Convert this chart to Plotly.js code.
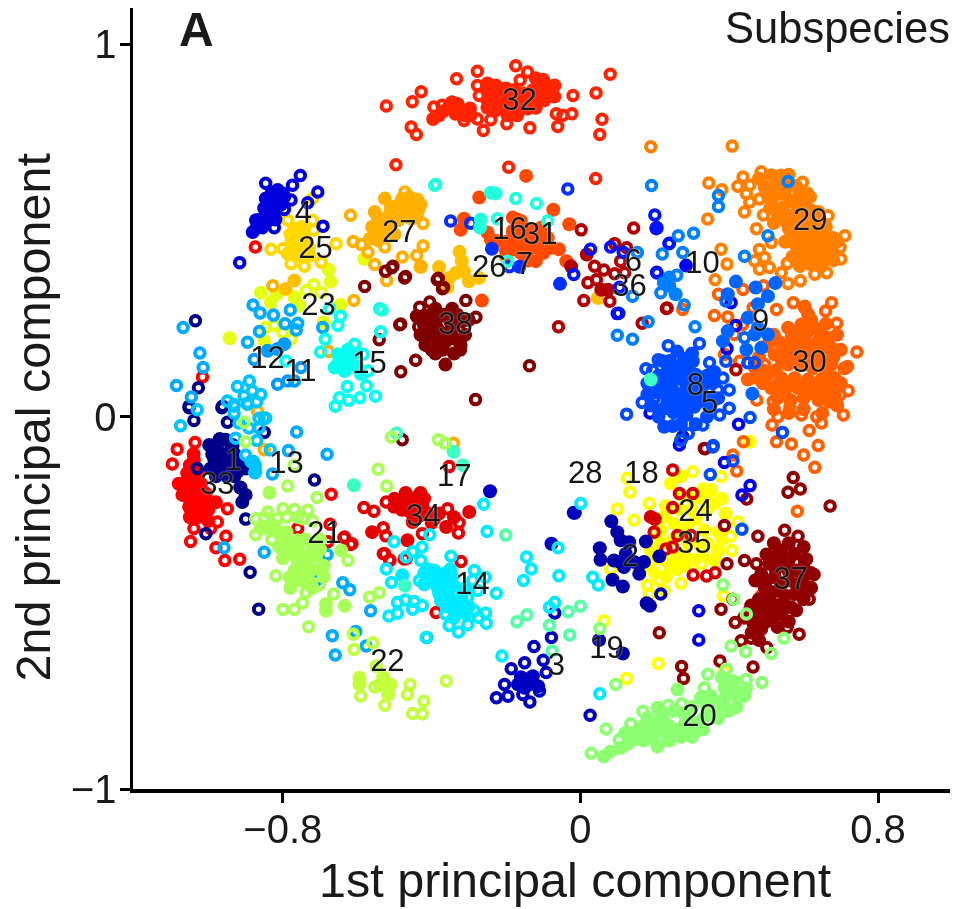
<!DOCTYPE html>
<html><head><meta charset="utf-8">
<script src="https://cdn.plot.ly/plotly-3.0.1.min.js"></script>
<style>html,body{margin:0;padding:0;background:#fff}#plot{width:958px;height:909px;filter:blur(0.45px)}</style>
</head><body><div id="plot"></div><script>
const xTickValues=[-0.8,0,0.8];
const xTickLabels=['−0.8','0','0.8'];
const yTickValues=[-1,0,1];
const yTickLabels=['−1','0','1'];

const labelNames=['1','2','3','4','5','6','7','8','9','10','11','12','13','14','15','16','17','18','19','20','21','22','23','24','25','26','27','28','29','30','31','32','33','34','35','36','37','38'];
const labelX=[-.933,.134,-.065,-.745,.347,.142,-.151,.309,.484,.328,-.753,-.841,-.79,-.29,-.567,-.191,-.339,.164,.07,.32,-.688,-.519,-.704,.309,-.712,-.245,-.487,.013,.618,.616,-.108,-.164,-.976,-.422,.306,.132,.565,-.336];
const labelY=[-.123,-.379,-.674,.54,.032,.411,.405,.078,.252,.408,.118,.153,-.129,-.456,.137,.499,-.164,-.156,-.628,-.811,-.319,-.663,.295,-.258,.446,.395,.491,-.156,.523,.14,.486,.846,-.188,-.274,-.344,.346,-.443,.242];

const colors={1:'#00008b',2:'#0000a8',3:'#0000c3',4:'#0000dd',5:'#0000f0',6:'#0014ff',7:'#002fff',8:'#004aff',9:'#0065ff',10:'#0080ff',11:'#009aff',12:'#00aaff',13:'#00c4ff',14:'#00ebff',15:'#07fff0',16:'#22ffdd',17:'#3cffc3',18:'#57ffa8',19:'#72ff8d',20:'#8dff72',21:'#a8ff57',22:'#c3ff3c',23:'#e4ff14',24:'#ffff00',25:'#ffd800',26:'#ffc000',27:'#ffb000',28:'#ff9a00',29:'#ff8000',30:'#ff6000',31:'#ff4a00',32:'#ff2400',33:'#ff0000',34:'#e40000',35:'#d40000',36:'#b00000',37:'#900000',38:'#800000'};

const ring1=[[-1.052,.028],[-1.039,-.01],[-.962,.028],[-.949,-.015],[-.85,-.042],[-1.03,-.139],[-.913,-.19],[-.9,-.275],[-1.007,-.314],[-.888,-.418],[-.865,-.517],[-.715,-.17],[-1.035,.258],[-1.027,.078],[-1.052,.024],[-.964,.024]];
const solid1=[[-.998,-.076],[-.954,-.062],[-.985,-.112],[-.958,-.103],[-.935,-.076],[-.994,-.139],[-.9,-.139],[-.922,-.148],[-.909,-.229],[-.96,-.135],[-.975,-.09],[-.94,-.09],[-.975,-.13],[-.935,-.12],[-.98,-.16],[-.95,-.16],[-.92,-.12],[-.91,-.135],[-.9,-.21],[-.915,-.19],[-.93,-.16],[-.99,-.1],[-.97,-.06],[-.93,-.1]];
const ring2=[[.216,-.476]];
const solid2=[[.083,-.281],[.099,-.31],[.108,-.332],[.131,-.337],[.052,-.353],[.054,-.384],[.09,-.386],[.122,-.368],[.144,-.39],[.171,-.39],[.158,-.422],[.117,-.404],[.086,-.438],[.114,-.456],[.176,-.335],[.212,-.375],[.178,-.501],[.187,-.508],[-.018,-.258],[.05,-.6],[.114,-.636],[.105,-.39]];
const ring3=[[-.125,-.617],[-.1,-.654],[-.186,-.677],[-.15,-.661],[-.092,-.687],[-.204,-.719],[-.226,-.755],[-.195,-.751],[-.136,-.766],[-.11,-.737],[-.155,-.746],[-.078,-.593],[-.069,-.527],[.026,-.802]];
const solid3=[[-.145,-.706],[-.128,-.697],[-.15,-.728],[-.114,-.724],[-.168,-.719],[-.078,-.341],[-.243,-.2],[-.015,-.258],[-.14,-.72],[-.13,-.71],[-.16,-.7]];
const ring4=[[-.753,.648],[-.774,.622],[-.706,.604],[-.733,.575],[-.692,.512],[-.916,.414],[-.846,.627],[-.778,.582],[-.823,.508],[-.855,.508],[-.796,.557]];
const solid4=[[-.814,.609],[-.846,.586],[-.818,.582],[-.796,.591],[-.85,.56],[-.823,.555],[-.872,.528],[-.881,.496],[-.841,.532],[-.863,.514],[-.83,.6],[-.805,.57],[-.84,.56],[-.82,.53],[-.86,.53],[-.8,.6],[-.83,.575],[-.87,.51]];
const ring5=[[.239,.466],[.205,.388],[.099,.277],[.187,.01],[.425,-.02],[.394,.183],[.418,.245],[.405,.306],[.266,-.076],[.275,-.053],[.387,-.123],[.318,-.521],[.318,-.6],[.456,-.185],[.434,-.21]];
const solid5=[[.204,.506],[.284,.406]];
const ring6=[[.027,.45],[.081,.456],[.115,.442],[-.018,.382],[.105,.348],[.103,.278],[.206,.386],[.238,.465],[.2,.542]];
const solid6=[[.205,.508]];
const ring7=[[-.349,.526],[-.295,.52],[-.191,.403],[-.034,.612]];
const solid7=[[-.164,.403],[-.238,.451],[-.055,.357]];
const ring8=[[.236,.191],[.32,.197],[.176,.129],[.209,.153],[.347,.145],[.383,.104],[.369,.072],[.4,.072],[.4,.023],[.374,.005],[.166,.038],[.124,.007],[.198,.05],[.194,.124],[.329,-.022],[.29,-.045],[.27,-.063],[.356,-.081],[.391,.149],[.468,.145],[.45,.145],[.543,-.042],[.456,-.002],[.357,-.077],[.41,-.118],[.349,-.155],[.434,-.302]];
const solid8=[[.234,.122],[.27,.14],[.302,.149],[.216,.077],[.243,.086],[.274,.1],[.31,.113],[.333,.086],[.234,.041],[.266,.05],[.297,.059],[.27,.014],[.306,.027],[.342,.05],[.225,-.027],[.248,-.025],[.25,.012],[.205,.09],[.3,.09],[.34,.11],[.22,.1],[.25,.11],[.285,.12],[.23,.06],[.25,.07],[.285,.075],[.32,.07],[.25,.03],[.285,.04],[.32,.04],[.22,.02],[.285,.005],[.26,.13],[.29,.135],[.2,.065],[.21,.11],[.355,.09],[.35,.03],[.32,.1],[.24,.15],[.28,.155],[.18,.09],[.18,.06],[.22,.15],[.3,.17],[.26,.175],[.36,.12],[.37,.05],[.34,.0],[.31,-.02],[.27,-.02],[.21,0],[.19,.03]];
const ring9=[[.391,.311],[.441,.212]];
const solid9=[[.396,.329],[.418,.363],[.471,.347],[.524,.359],[.504,.324],[.477,.302],[.45,.266],[.477,.239],[.504,.221],[.396,.23],[.446,.18],[.486,.185],[.468,.221],[.383,.203],[.462,.062]];
const ring10=[[.191,.621],[.371,.594],[.371,.565],[.263,.486],[.304,.493],[.275,.441],[.22,.437],[.259,.38],[.308,.242],[.099,.219],[.14,.208],[.182,.255],[.441,.431],[.504,.486],[.558,.632],[.153,.441],[.216,.333],[.279,.3],[.14,.324]];
const solid10=[[.239,.352],[.256,.329],[.239,.374],[.224,.36]];
const ring11=[[-.814,.087],[-.787,.096],[-.769,.096],[-.751,.132],[-.877,.154]];
const solid11=[[-.841,.177],[-.796,.195],[-.814,.182]];
const ring12=[[-.88,.3],[-.861,.279],[-.825,.273],[-.78,.287],[-.794,.25],[-.76,.251],[-.764,.233],[-.863,.229],[-.895,.2],[-1.023,.171],[-1.014,.132],[-1.068,.24],[-1.086,.084],[-1.046,.053],[-.693,.24],[-.785,-.091],[-.763,-.041],[-.681,-.101],[-.828,-.154],[-.85,-.364],[-.958,-.352],[-.681,-.37],[-.711,-.44],[-.639,-.446],[-.62,-.465],[-.564,-.521],[-.667,-.588],[-.604,-.577],[-.576,-.616],[-.659,-.64],[-.413,-.593]];
const ring13=[[-.922,.081],[-.89,.096],[-.882,.069],[-.904,.056],[-.859,.06],[-.87,.04],[-.895,.033],[-.949,.042],[-.931,.028],[-.85,-.003],[-.931,.033],[-.895,.037],[-1.03,.019],[-1.075,-.024],[-.931,.01],[-.918,-.017],[-.891,-.03],[-.864,-.004],[-.846,-.004],[-.864,-.03],[-.927,-.058],[-.87,-.064],[-.9,-.103],[-.879,-.12],[-.873,-.148],[-.834,-.089]];
const solid13=[[-.875,-.13],[-.875,-.15],[-.885,-.12]];
const ring14=[[-.348,-.375],[-.426,-.35],[-.451,-.363],[-.469,-.377],[-.429,-.386],[-.501,-.336],[-.405,-.317],[-.522,-.409],[-.508,-.445],[-.433,-.44],[-.285,-.413],[-.256,-.431],[-.29,-.44],[-.276,-.467],[-.226,-.474],[-.303,-.485],[-.47,-.492],[-.492,-.499],[-.447,-.496],[-.425,-.507],[-.451,-.517],[-.492,-.528],[-.515,-.535],[-.285,-.521],[-.255,-.527],[-.253,-.555],[-.274,-.539],[-.303,-.559],[-.328,-.578],[-.353,-.561],[-.363,-.53],[-.339,-.535],[-.415,-.593],[-.26,-.235],[-.251,-.308],[-.06,-.352],[-.145,-.377],[-.132,-.409],[-.153,-.44],[-.058,-.427],[-.083,-.512],[-.069,-.499],[-.211,-.643],[.001,-.233],[.033,-.431],[.048,-.452],[.052,-.744]];
const solid14=[[-.393,-.413],[-.366,-.422],[-.411,-.436],[-.384,-.458],[-.357,-.476],[-.375,-.494],[-.339,-.503],[-.33,-.526],[-.307,-.53],[-.479,-.426],[-.36,-.445],[-.41,-.41],[-.38,-.435],[-.4,-.42],[-.37,-.46],[-.35,-.49],[-.36,-.51],[-.32,-.51],[-.34,-.455],[-.345,-.43],[-.38,-.475],[-.42,-.42],[-.395,-.445],[-.3,-.51],[-.42,-.45],[-.35,-.41],[-.31,-.46],[-.32,-.485],[-.34,-.54]];
const ring15=[[-.54,.29],[-.537,.228],[-.645,.27],[-.652,.245],[-.686,.208],[-.699,.174],[-.607,.195],[-.584,.168],[-.792,.15],[-.571,.123],[-.575,.083],[-.551,.055],[-.593,.051],[-.627,.081],[-.623,.044],[-.648,.051],[-.659,.028],[-.674,.29],[-.389,.624]];
const solid15=[[-.652,.168],[-.625,.15],[-.661,.132],[-.634,.123],[-.598,.132],[-.625,.18],[-.64,.15],[-.61,.14],[-.615,.165],[-.65,.145],[-.59,.115]];
const ring16=[[-.392,.622],[-.174,.586],[-.118,.573],[-.088,.526],[-.223,.532],[-.196,.418],[-.533,.287]];
const solid16=[[-.241,.602],[-.228,.6],[-.268,.53],[-.27,.508]];
const ring17=[[-.494,-.044]];
const solid17=[[-.609,-.184],[-.472,-.454],[-.341,-.094],[-.316,-.13],[.189,.1]];
const ring18=[[-.201,-.318],[-.171,-.551],[-.144,-.532],[-.083,-.56],[-.033,-.524],[0,-.509],[-.029,-.586],[-.076,-.629]];
const ring20=[[.029,-.904],[.069,-.839],[.104,-.868],[.135,-.825],[.168,-.791],[.236,-.775],[.272,-.771],[.342,-.692],[.392,-.678],[.488,-.714],[.446,-.706],[.423,-.715],[.333,-.728],[.405,-.616],[.444,-.631],[.513,-.636],[.547,-.595],[.095,-.719],[.052,-.569],[.383,-.451],[.412,-.49],[.446,-.53]];
const solid20=[[.063,-.913],[.108,-.89],[.144,-.868],[.18,-.845],[.207,-.818],[.207,-.886],[.234,-.827],[.252,-.854],[.279,-.827],[.315,-.827],[.351,-.8],[.324,-.755],[.369,-.773],[.396,-.746],[.423,-.755],[.261,-.733],[.387,-.728],[.18,-.809],[.207,-.782],[.153,-.845],[.08,-.9],[.125,-.88],[.16,-.86],[.19,-.84],[.22,-.845],[.235,-.87],[.26,-.84],[.295,-.84],[.33,-.81],[.3,-.82],[.34,-.78],[.36,-.79],[.385,-.76],[.41,-.74],[.43,-.74],[.35,-.75],[.14,-.85],[.17,-.87],[.195,-.865],[.12,-.85],[.17,-.83],[.22,-.8],[.25,-.79],[.28,-.8],[.3,-.78],[.24,-.87],[.27,-.86],[.3,-.86],[.33,-.84],[.37,-.81],[.4,-.79],[.42,-.78],[.44,-.75],[.445,-.73],[.41,-.71],[.38,-.7]];
const ring21=[[-.873,-.274],[-.841,-.256],[-.8,-.247],[-.769,-.249],[-.733,-.251],[-.747,-.274],[-.873,-.317],[-.845,-.3],[-.814,-.274],[-.787,-.186],[-.708,-.217],[-.544,-.141],[-.521,-.186],[-.508,-.055],[-.382,-.062],[-.364,-.071],[-.738,-.472],[-.663,-.476],[-.702,-.451],[-.819,-.427],[-.8,-.518],[-.769,-.518],[-.747,-.5],[-.731,-.564],[-.567,-.485],[-.541,-.473],[-.904,-.015],[-.9,-.067],[-.769,-.13],[-.625,-.386],[-.697,-.413],[-.85,-.27],[-.83,-.3],[-.79,-.27],[-.76,-.27],[-.72,-.28],[-.86,-.3],[-.83,-.33]];
const solid21=[[-.836,-.204],[-.823,-.292],[-.796,-.332],[-.76,-.332],[-.724,-.341],[-.778,-.368],[-.742,-.377],[-.71,-.373],[-.769,-.413],[-.733,-.395],[-.782,-.431],[-.684,-.503],[-.684,-.521],[-.634,-.508],[-.85,-.296],[-.643,-.359],[-.76,-.355],[-.72,-.355],[-.76,-.39],[-.72,-.41],[-.75,-.42],[-.7,-.355],[-.74,-.33],[-.78,-.345],[-.79,-.31],[-.81,-.31],[-.75,-.44],[-.8,-.38],[-.81,-.35],[-.77,-.44],[-.73,-.44],[-.69,-.4],[-.69,-.43],[-.72,-.46],[-.78,-.46],[-.7,-.33]];
const ring22=[[-.558,-.607],[-.609,-.625],[-.591,-.75],[-.553,-.726],[-.526,-.775],[-.458,-.719],[-.465,-.746],[-.421,-.764],[-.451,-.797],[-.425,-.798],[-.361,-.71],[-.611,-.584]];
const solid22=[[-.594,-.701],[-.594,-.719],[-.526,-.719],[-.517,-.746],[-.549,-.67],[-.54,-.72],[-.53,-.7],[-.51,-.72]];
const ring23=[[-.823,.245],[-.8,.226],[-.778,.208],[-.846,.24],[-.717,.355],[-.737,.339],[-.697,.334]];
const solid23=[[-.677,.395],[-.672,.363],[-.859,.333],[-.832,.307],[-.645,.301],[-.943,.211],[-.85,.204],[-.582,.424],[-.69,.253],[-.818,.328],[-.769,.321],[-.755,.298]];
const ring24=[[.126,-.165],[.133,-.203],[.099,-.248],[.144,-.278],[.185,-.233],[.302,-.148],[.378,-.161],[.423,-.283],[.403,-.321],[.407,-.359],[.324,-.395],[.27,-.447],[.225,-.467],[.18,-.453],[.212,-.44],[.185,-.476],[.063,-.548],[.209,-.663],[.124,-.703],[.387,-.683],[.384,-.48],[.081,-.409]];
const solid24=[[.351,-.197],[.333,-.224],[.36,-.233],[.225,-.269],[.216,-.305],[.252,-.287],[.288,-.296],[.333,-.305],[.225,-.386],[.261,-.377],[.189,-.359],[.342,-.341],[.36,-.386],[.306,-.386],[.243,-.179],[.194,-.332],[.455,-.067],[.27,-.06],[.3,-.22],[.3,-.25],[.27,-.25],[.34,-.25],[.31,-.275],[.27,-.31],[.25,-.33],[.22,-.34],[.29,-.34],[.32,-.345],[.28,-.37],[.33,-.37],[.24,-.4],[.28,-.4],[.37,-.36],[.38,-.33],[.37,-.31],[.2,-.38],[.18,-.4],[.2,-.42],[.23,-.43],[.26,-.41],[.33,-.195],[.38,-.22],[.27,-.21],[.23,-.24],[.39,-.26],[.27,-.16]];
const ring25=[[-.787,.528],[-.72,.528],[-.717,.501],[-.832,.45],[-.657,.465],[-.778,.411],[-.742,.404],[-.8,.451],[-.697,.415],[-.72,.586]];
const solid25=[[-.769,.506],[-.751,.483],[-.778,.465],[-.787,.438],[-.76,.433],[-.728,.433],[-.746,.456],[-.76,.47],[-.75,.45],[-.77,.45],[-.73,.455],[-.78,.49],[-.75,.51],[-.74,.48]];
const solid26=[[-.325,.443],[-.319,.418],[-.38,.402],[-.335,.386],[-.353,.373],[-.358,.348],[-.313,.391],[-.3,.364],[-.272,.373],[-.43,.402],[.047,.319],[-.769,.366],[-.792,.343]];
const ring27=[[-.472,.604],[-.438,.584],[-.618,.541],[-.423,.519],[-.611,.471],[-.589,.463],[-.571,.442],[-.553,.409],[-.526,.456],[-.479,.429],[-.44,.433],[-.423,.459],[-.521,.366],[-.609,.312],[-.677,.175],[-.868,.015],[-.85,-.089],[-.827,.352],[-.341,-.071]];
const solid27=[[-.429,.404],[-.553,.55],[-.526,.586],[-.499,.564],[-.463,.56],[-.436,.555],[-.526,.532],[-.49,.528],[-.454,.532],[-.548,.501],[-.517,.505],[-.566,.478],[-.544,.474],[-.51,.56],[-.48,.585],[-.445,.575],[-.545,.525],[-.51,.55],[-.47,.545],[-.51,.515],[-.53,.49],[-.5,.49],[-.56,.51],[-.43,.57],[-.44,.54],[-.46,.59]];
const ring29=[[.189,.725],[.408,.727],[.345,.628],[.38,.61],[.342,.531],[.423,.619],[.437,.644],[.486,.658],[.597,.63],[.455,.622],[.446,.599],[.455,.577],[.441,.55],[.481,.585],[.492,.542],[.473,.505],[.711,.486],[.698,.455],[.7,.424],[.662,.387],[.63,.383],[.591,.365],[.558,.358],[.54,.387],[.556,.412],[.378,.45],[.394,.41],[.362,.368],[.481,.449],[.468,.419],[.495,.428],[.508,.401],[.481,.396],[.513,.468],[.666,.54]];
const solid29=[[.513,.649],[.54,.648],[.495,.617],[.522,.617],[.549,.599],[.585,.59],[.617,.59],[.513,.581],[.545,.563],[.585,.558],[.621,.554],[.549,.527],[.585,.518],[.617,.509],[.648,.509],[.567,.486],[.6,.478],[.63,.473],[.666,.464],[.594,.441],[.63,.437],[.662,.433],[.617,.41],[.648,.405],[.53,.63],[.56,.62],[.5,.6],[.53,.598],[.565,.58],[.6,.57],[.53,.545],[.565,.54],[.6,.54],[.635,.53],[.56,.505],[.59,.497],[.625,.49],[.655,.485],[.58,.46],[.615,.455],[.648,.45],[.61,.425],[.64,.42],[.675,.45],[.68,.48],[.51,.56],[.52,.52],[.55,.47],[.57,.43],[.59,.405],[.69,.47],[.68,.42],[.66,.51],[.64,.55],[.61,.6],[.48,.64],[.56,.65],[.58,.62]];
const ring30=[[.572,.306],[.603,.297],[.675,.306],[.659,.284],[.689,.251],[.743,.174],[.718,.135],[.72,.07],[.698,.059],[.707,.005],[.648,-.017],[.615,-.037],[.515,-.022],[.531,0],[.594,.005],[.635,0],[.563,.027],[.518,.041],[.474,.045],[.428,.149],[.495,.14],[.527,.288],[.396,.268],[.36,.272],[.414,.221],[.436,.248],[.387,.167],[.464,.293],[.492,.352],[.371,.329],[.437,.342],[.241,.138],[.275,.288],[.438,-.067],[.527,-.067],[.567,-.073],[.639,-.077],[.6,-.103],[.63,-.136],[.41,-.103],[.42,-.146],[.583,-.254],[.486,-.48]];
const solid30=[[.558,.239],[.594,.248],[.63,.239],[.666,.212],[.531,.203],[.567,.212],[.603,.212],[.639,.203],[.675,.185],[.522,.167],[.558,.176],[.594,.176],[.63,.17],[.558,.14],[.594,.14],[.675,.14],[.504,.113],[.54,.104],[.576,.104],[.612,.1],[.648,.1],[.684,.104],[.477,.104],[.513,.077],[.549,.068],[.585,.077],[.621,.063],[.657,.072],[.684,.059],[.612,.275],[.603,.293],[.575,.225],[.612,.23],[.648,.22],[.55,.19],[.585,.195],[.62,.19],[.655,.185],[.54,.155],[.575,.158],[.61,.158],[.645,.158],[.68,.16],[.625,.13],[.66,.125],[.525,.125],[.49,.09],[.53,.085],[.565,.085],[.6,.085],[.635,.08],[.67,.085],[.53,.05],[.565,.045],[.6,.05],[.64,.045],[.67,.04],[.63,.14],[.49,.125],[.52,.22],[.5,.19],[.48,.16],[.47,.13],[.45,.1],[.62,.26],[.66,.25],[.69,.22],[.7,.18],[.71,.13],[.7,.09],[.52,.02],[.56,.01],[.6,.02],[.65,.01],[.69,.03]];
const solid31=[[-.182,.535],[-.16,.526],[-.182,.499],[-.16,.472],[-.178,.45],[-.142,.445],[-.115,.454],[-.088,.481],[-.106,.508],[-.079,.454],[-.12,.418],[-.146,.423],[-.2,.445],[-.241,.476],[-.25,.495],[-.223,.472],[-.128,.481],[-.146,.647],[-.272,.589],[-.073,.556],[-.03,.517],[-.322,.502],[-.313,.532],[-.058,.45],[-.265,.312],[-.038,.418],[-.17,.51],[-.15,.5],[-.13,.5],[-.15,.475],[-.13,.46],[-.1,.48],[-.18,.47],[-.2,.47],[-.16,.44],[-.1,.44],[-.14,.42],[-.17,.53],[-.2,.43]];
const ring32=[[-.522,.835],[-.452,.846],[-.428,.873],[-.455,.778],[-.441,.758],[-.333,.908],[-.277,.928],[-.174,.943],[-.142,.926],[.08,.92],[.042,.87],[-.02,.863],[-.023,.814],[.058,.799],[.052,.758],[-.061,.78],[-.136,.776],[-.261,.769],[-.198,.787],[-.241,.798],[-.277,.8],[-.277,.89],[-.272,.863],[-.162,.904],[-.065,.814],[-.047,.81],[-.372,.837],[-.394,.832],[-.313,.796],[-.496,.677],[-.193,.67],[.041,.64]];
const solid32=[[-.396,.8],[-.345,.845],[-.326,.828],[-.336,.814],[-.313,.818],[-.297,.828],[-.295,.81],[-.25,.895],[-.228,.89],[-.2,.882],[-.178,.877],[-.25,.873],[-.228,.868],[-.228,.846],[-.228,.823],[-.205,.859],[-.196,.81],[-.169,.85],[-.178,.828],[-.151,.868],[-.128,.877],[-.12,.909],[-.097,.891],[-.079,.877],[-.106,.864],[-.12,.841],[-.142,.828],[-.097,.85],[-.21,.86],[-.21,.83],[-.24,.85],[-.19,.84],[-.21,.88],[-.15,.85],[-.11,.88],[-.13,.86],[-.09,.87],[-.18,.85],[-.37,.82],[-.31,.81],[-.33,.84],[-.355,.83],[-.38,.81],[-.25,.85],[-.25,.83],[-.17,.81],[-.15,.83],[-.07,.86],[-.07,.89],[-.12,.83],[-.1,.905]];
const ring33=[[-1.084,-.087],[-1.097,-.127],[-1.036,-.069],[-.949,-.247],[-1.039,-.3],[-.976,-.283],[-.994,-.3],[-.953,-.321],[-1.048,-.335],[-.98,-.352],[-.956,-.386],[-.916,-.383],[-.874,.456],[-1.016,.107],[-.67,-.208]];
const solid33=[[-1.039,-.116],[-1.057,-.152],[-1.07,-.184],[-1.039,-.179],[-1.052,-.22],[-1.025,-.233],[-1.052,-.242],[-1.025,-.269],[-1.007,-.206],[-1.05,-.13],[-1.025,-.15],[-1.02,-.18],[-1.05,-.2],[-1.03,-.21],[-1.06,-.175],[-1.01,-.23],[-1.03,-.25],[-1.0,-.25],[-.98,-.23],[-1.08,-.18],[-1.07,-.21],[-1.0,-.28],[-1.05,-.27],[-1.04,-.1]];
const ring34=[[-.582,-.244],[-.555,-.254],[-.522,-.229],[-.357,-.247],[-.326,-.285],[-.328,-.312],[-.53,-.298],[-.523,-.32],[-.425,-.314],[-.53,-.368],[-.512,-.386],[-.474,-.382],[-.321,-.389],[-.388,-.526],[-.353,-.134],[-.618,-.343],[-.636,-.325],[-.673,-.289],[-.76,-.3],[-.679,-.336],[-.634,-.323],[-.614,-.341],[-.526,-.368],[-.513,-.384],[-.468,-.381]];
const solid34=[[-.478,-.224],[-.438,-.215],[-.501,-.242],[-.465,-.251],[-.425,-.238],[-.451,-.283],[-.393,-.274],[-.361,-.296],[-.56,-.31],[-.299,-.256],[-.465,-.332],[-.46,-.225],[-.44,-.24],[-.48,-.25],[-.42,-.22],[-.45,-.265],[-.43,-.265],[-.41,-.26],[-.38,-.26],[-.4,-.285],[-.5,-.22],[-.34,-.27],[-.47,-.205],[-.43,-.205]];
const ring35=[[.248,-.143],[.198,-.31],[.248,-.244],[.266,-.206],[.302,-.206],[.23,-.355],[.248,-.35],[.261,-.319],[.297,-.319],[.303,-.425],[.339,-.428],[.362,-.419]];
const solid35=[[.189,-.269],[.2,-.275]];
const ring36=[[.002,.502],[.143,.507],[.038,.404],[.063,.394],[.092,.384],[.119,.387],[.02,.36],[.043,.368],[.079,.31],[.009,.312],[-.059,.242],[.108,.418],[.124,.454],[.092,.465],[.166,.251],[.233,.292],[.231,.291],[.418,.126],[.333,-.085]];
const solid36=[[.017,.436],[-.025,.404],[.056,.341],[.074,.341]];
const ring37=[[.549,-.305],[.585,-.321],[.477,-.321],[.572,-.163],[.558,-.203],[.591,-.194],[.671,-.24],[.628,-.424],[.619,-.458],[.615,-.49],[.608,-.382],[.473,-.395],[.441,-.386],[.394,-.395],[.378,-.517],[.416,-.553],[.432,-.602],[.459,-.595],[.501,-.62],[.588,-.584],[.556,-.566],[.464,-.672],[.375,-.656],[.272,-.671],[.277,-.703],[.212,-.58],[.447,-.221],[.335,-.086],[.387,-.292],[.41,-.49]];
const solid37=[[.54,-.359],[.576,-.368],[.603,-.386],[.508,-.395],[.545,-.395],[.581,-.413],[.486,-.422],[.522,-.431],[.558,-.44],[.599,-.431],[.495,-.458],[.531,-.467],[.576,-.476],[.459,-.507],[.509,-.49],[.54,-.503],[.567,-.512],[.477,-.539],[.513,-.539],[.486,-.57],[.455,-.521],[.54,-.53],[.56,-.385],[.525,-.375],[.525,-.41],[.56,-.415],[.5,-.44],[.54,-.45],[.58,-.45],[.51,-.47],[.55,-.48],[.595,-.46],[.48,-.49],[.52,-.515],[.5,-.52],[.48,-.515],[.53,-.52],[.5,-.55],[.465,-.555],[.44,-.54],[.6,-.405],[.47,-.44],[.6,-.35],[.56,-.34],[.52,-.34],[.5,-.37],[.62,-.42],[.62,-.46],[.6,-.49],[.58,-.52],[.56,-.55],[.53,-.565],[.48,-.6],[.46,-.58]];
const ring38=[[-.308,.312],[-.281,.267],[-.432,.294],[-.405,.308],[-.486,.247],[-.435,.242],[-.416,.193],[-.385,.368],[-.371,.344],[-.507,.4],[-.473,.373],[-.504,.404],[-.524,.391],[-.47,.377],[-.58,.35],[-.382,.372],[-.483,.249],[-.541,.207],[-.443,.152],[-.483,.121],[-.368,.348],[-.137,.137],[-.282,.046],[-.479,-.062]];
const solid38=[[-.403,.274],[-.367,.274],[-.331,.274],[-.421,.247],[-.385,.238],[-.345,.235],[-.403,.211],[-.362,.202],[-.322,.193],[-.363,.14],[-.417,.193],[-.323,.18],[-.39,.17],[-.41,.26],[-.385,.265],[-.35,.255],[-.4,.23],[-.36,.225],[-.38,.205],[-.34,.21],[-.41,.21],[-.37,.18],[-.34,.17],[-.4,.18],[-.345,.29],[-.32,.255],[-.42,.27],[-.39,.29],[-.44,.27],[-.43,.22],[-.31,.22],[-.3,.26]];

const rings={1:ring1,2:ring2,3:ring3,4:ring4,5:ring5,6:ring6,7:ring7,8:ring8,9:ring9,10:ring10,11:ring11,12:ring12,13:ring13,14:ring14,15:ring15,16:ring16,17:ring17,18:ring18,20:ring20,21:ring21,22:ring22,23:ring23,24:ring24,25:ring25,27:ring27,29:ring29,30:ring30,32:ring32,33:ring33,34:ring34,35:ring35,36:ring36,37:ring37,38:ring38};
const solids={1:solid1,2:solid2,3:solid3,4:solid4,5:solid5,6:solid6,7:solid7,8:solid8,9:solid9,10:solid10,11:solid11,13:solid13,14:solid14,15:solid15,16:solid16,17:solid17,20:solid20,21:solid21,22:solid22,23:solid23,24:solid24,25:solid25,26:solid26,27:solid27,29:solid29,30:solid30,31:solid31,32:solid32,33:solid33,34:solid34,35:solid35,36:solid36,37:solid37,38:solid38};

const traces=[];
const drawOrder=[23,24,25,26,27,28,29,30,31,32,33,34,35,36,37,38,1,2,3,4,5,6,7,8,9,10,11,12,13,14,15,16,17,18,19,20,21,22];
drawOrder.forEach(k=>{
  const c=colors[k];
  if(rings[k])traces.push({type:'scatter',mode:'markers',x:rings[k].map(p=>p[0]),y:rings[k].map(p=>p[1]),cliponaxis:false,hoverinfo:'skip',marker:{symbol:'circle-open',size:9.5,color:c,line:{width:4,color:c}}});
  if(solids[k])traces.push({type:'scatter',mode:'markers',x:solids[k].map(p=>p[0]),y:solids[k].map(p=>p[1]),cliponaxis:false,hoverinfo:'skip',marker:{symbol:'circle',size:14,color:c,line:{width:0}}});
});
traces.push({type:'scatter',mode:'text',x:labelX,y:labelY,text:labelNames,textposition:'middle center',hoverinfo:'skip',cliponaxis:false,textfont:{family:'Liberation Sans, Arial, sans-serif',size:31,color:'#151515',shadow:'0 0 2px rgba(255,255,255,0.8)'}});

const axisFont={family:'Liberation Sans, Arial, sans-serif',size:40,color:'#1a1a1a'};
const titleFont={family:'Liberation Sans, Arial, sans-serif',size:48.5,color:'#1a1a1a'};
Plotly.newPlot('plot',traces,{
  width:958,height:909,showlegend:false,paper_bgcolor:'#fff',plot_bgcolor:'#fff',
  margin:{l:133,r:8,t:8,b:120},
  xaxis:{range:[-1.2028,.9934],showgrid:false,zeroline:false,showline:true,linecolor:'#000',linewidth:3.5,ticks:'outside',ticklen:10,tickwidth:3,tickcolor:'#000',tickvals:xTickValues,ticktext:xTickLabels,tickfont:axisFont,ticklabelstandoff:-8},
  yaxis:{range:[-1,1.098],showgrid:false,zeroline:false,showline:true,linecolor:'#000',linewidth:3.5,ticks:'outside',ticklen:10,tickwidth:3,tickcolor:'#000',tickvals:yTickValues,ticktext:yTickLabels,tickfont:axisFont,ticklabelstandoff:-5},
  annotations:[
    {text:'1st principal component',xref:'paper',yref:'paper',x:.542,y:-.116,xanchor:'center',yanchor:'middle',showarrow:false,font:titleFont},
    {text:'2nd principal component',xref:'paper',yref:'paper',x:-.122,y:.476,xanchor:'center',yanchor:'middle',textangle:-90,showarrow:false,font:titleFont},
    {text:'<b>A</b>',xref:'paper',yref:'paper',x:0.054,y:1.009,xanchor:'left',yanchor:'top',showarrow:false,font:{family:'Liberation Sans, Arial, sans-serif',size:48,color:'#1a1a1a'}},
    {text:'Subspecies',xref:'paper',yref:'paper',x:1.003,y:1.008,xanchor:'right',yanchor:'top',showarrow:false,font:{family:'Liberation Sans, Arial, sans-serif',size:43.5,color:'#1a1a1a'}}
  ]
},{displayModeBar:false,staticPlot:true});
</script></body></html>
